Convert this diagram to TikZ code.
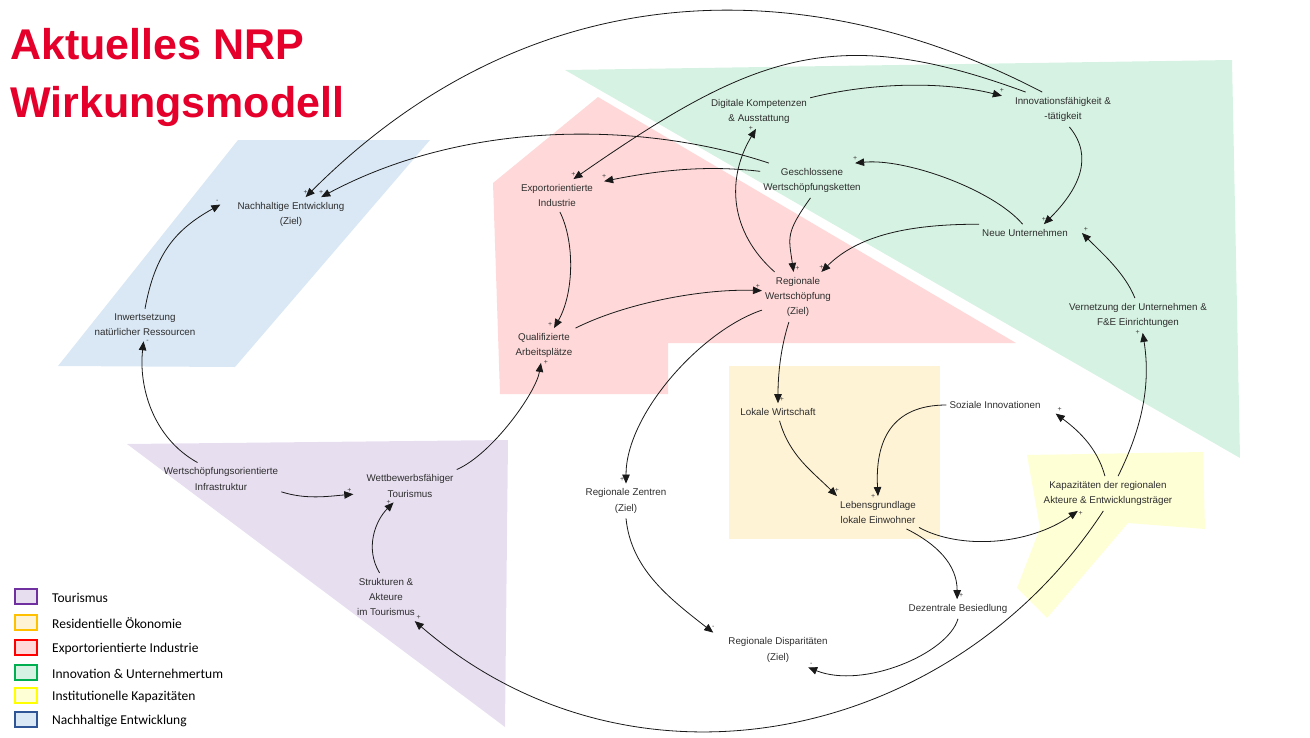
\documentclass[tikz,border=0pt]{standalone}
\usepackage{fontspec}
\setmainfont{Liberation Sans}
\newfontfamily\legendfont{Carlito}
\usetikzlibrary{arrows.meta}
\definecolor{nrpred}{HTML}{E4002B}
\definecolor{txtgray}{HTML}{2E2E2E}
\definecolor{tourF}{HTML}{E7DEF0}
\definecolor{tourB}{HTML}{7030A0}
\definecolor{resF}{HTML}{FFF3D6}
\definecolor{resB}{HTML}{FFC000}
\definecolor{expF}{HTML}{FFD9D9}
\definecolor{expB}{HTML}{FF0000}
\definecolor{innF}{HTML}{D6F2E2}
\definecolor{innB}{HTML}{00B050}
\definecolor{insF}{HTML}{FFFFD6}
\definecolor{insB}{HTML}{FFFF00}
\definecolor{nacF}{HTML}{DAE8F5}
\definecolor{nacB}{HTML}{2F5597}
\tikzset{
  cvar/.style={align=center, font=\fontsize{9.8}{15.3}\selectfont, text=txtgray,
    inner xsep=3pt, inner ysep=5pt},
  link/.style={draw=black!90, line width=0.8pt, -{Triangle[length=9pt,width=7.5pt]}},
  sgn/.style={font=\fontsize{7}{7}\selectfont, text=black!75, inner sep=0.5pt},
  legbox/.style={line width=2pt, minimum width=22pt, minimum height=15pt, inner sep=0pt},
  legtext/.style={font=\legendfont\fontsize{13.5}{15}\selectfont, anchor=west, inner sep=1pt},
}
\begin{document}
\begin{tikzpicture}[x=1pt,y=-1pt]
\useasboundingbox (0,0) rectangle (1310,737);
% areas
\fill[nacF] (238,140) -- (430,140) -- (235,367) -- (58,366) -- cycle;
\fill[tourF] (127,444) -- (508,440) -- (505,727) -- cycle;
\fill[expF] (493,183) -- (598,97) -- (1016,343) -- (668,343) -- (668,394) -- (500,394) -- cycle;
\fill[innF] (565,70) -- (1232,60) -- (1240,458) -- cycle;
\fill[resF] (729,366) rectangle (940,539);
\fill[insF] (1027,455) -- (1203,452) -- (1205,529) -- (1128,523) -- (1047,618) -- (1017,588) -- (1040,528) -- cycle;
% title
\node[anchor=north west, inner sep=0pt, align=left, text=nrpred,
  font=\fontsize{43}{58}\selectfont\bfseries] (title) at (10,28) {Aktuelles NRP\\Wirkungsmodell};
% variables
\node[cvar] (ne) at (291,214.5) {Nachhaltige Entwicklung\\(Ziel)};
\node[cvar] (ir) at (145,325) {Inwertsetzung\\natürlicher Ressourcen};
\node[cvar] (wi) at (221,479) {Wertschöpfungsorientierte\\Infrastruktur};
\node[cvar] (wt) at (410,486) {Wettbewerbsfähiger\\Tourismus};
\node[cvar] (sat) at (386,597) {Strukturen \&\\Akteure\\im Tourismus};
\node[cvar] (ei) at (557,195.5) {Exportorientierte\\Industrie};
\node[cvar] (qa) at (544,345.5) {Qualifizierte\\Arbeitsplätze};
\node[cvar] (dk) at (759,111.5) {Digitale Kompetenzen\\\& Ausstattung};
\node[cvar] (gw) at (812,180.5) {Geschlossene\\Wertschöpfungsketten};
\node[cvar] (rw) at (798,297) {Regionale\\Wertschöpfung\\(Ziel)};
\node[cvar] (inno) at (1063,109.5) {Innovationsfähigkeit \&\\-tätigkeit};
\node[cvar] (nu) at (1025,233) {Neue Unternehmen};
\node[cvar] (vu) at (1138,315.5) {Vernetzung der Unternehmen \&\\F\&E Einrichtungen};
\node[cvar] (lw) at (778,412) {Lokale Wirtschaft};
\node[cvar] (si) at (995,405) {Soziale Innovationen};
\node[cvar] (le) at (878,512.5) {Lebensgrundlage\\lokale Einwohner};
\node[cvar] (ka) at (1108,493.5) {Kapazitäten der regionalen\\Akteure \& Entwicklungsträger};
\node[cvar] (rz) at (626,501) {Regionale Zentren\\(Ziel)};
\node[cvar] (db) at (958,609) {Dezentrale Besiedlung};
\node[cvar] (rd) at (778,650) {Regionale Disparitäten\\(Ziel)};
% links
\draw[link] (inno.140) .. controls +(-230,-120) and +(230,-230) .. (ne.50) node[sgn,pos=1,above=2pt] {+};
\draw[link] (inno.155) .. controls +(-190,-70) and +(180,-125) .. (ei.45) node[sgn,pos=1,above=2pt] {+};
\draw[link] (dk.15) .. controls +(60,-15) and +(-60,-15) .. ([xshift=-10pt]inno.165) node[sgn,pos=1,above=2pt] {+};
\draw[link] (gw.158) .. controls +(-120,-40) and +(150,-80) .. (ne.30) node[sgn,pos=1,above=2pt] {+};
\draw[link] (gw.170) .. controls +(-50,-6) and +(60,-12) .. ([xshift=8pt]ei.20) node[sgn,pos=1,above=2pt] {+};
\draw[link] (gw.-95) .. controls +(-25,35) and +(-5,-35) .. (rw.100) node[sgn,pos=1,above right=1pt] {+};
\draw[link] (rw.133) .. controls +(-45,-40) and +(-30,50) .. (dk.-100) node[sgn,pos=1,left=2pt] {+};
\draw[link] (nu.north west) .. controls +(-60,0) and +(40,-40) .. (rw.47) node[sgn,pos=1,above=2pt] {+};
\draw[link] (nu.105) .. controls +(-30,-35) and +(50,-5) .. (gw.22) node[sgn,pos=1,above=2pt] {+};
\draw[link] (inno.-70) .. controls +(25,30) and +(35,-35) .. (nu.25) node[sgn,pos=1,above=2pt] {+};
\draw[link] (vu.100) .. controls +(-10,-25) and +(20,20) .. ([xshift=11pt]nu.east) node[sgn,pos=1,above right=1pt] {+};
\draw[link] (ka.60) .. controls +(25,-50) and +(8,50) .. (vu.-75) node[sgn,pos=1,left=2pt] {+};
\draw[link] (ka.100) .. controls +(-8,-30) and +(20,15) .. ([xshift=12pt]si.-10) node[sgn,pos=1,above right=1pt] {+};
\draw[link] (le.-20) .. controls +(40,22) and +(-50,35) .. (ka.-150) node[sgn,pos=1,below right=0pt] {+};
\draw[link] (ka.-105) .. controls +(-150,230) and +(220,190) .. (sat.-40) node[sgn,pos=1,above right=1pt] {+};
\draw[link] (si.west) .. controls +(-55,0) and +(-3,-55) .. (le.north) node[sgn,pos=1,left=2pt] {+};
\draw[link] (lw.-80) .. controls +(10,35) and +(-25,-25) .. (le.north west) node[sgn,pos=1,above=3pt] {+};
\draw[link] (rw.-110) .. controls +(-8,25) and +(0,-30) .. (lw.north) node[sgn,pos=1,above right=1pt] {+};
\draw[link] (rw.-160) .. controls +(-60,20) and +(0,-70) .. (rz.north) node[sgn,pos=1,above left=1pt] {+};
\draw[link] (rz.south) .. controls +(5,50) and +(-45,-35) .. ([xshift=-12pt]rd.north west) node[sgn,pos=1,above=3pt] {-};
\draw[link] (le.-30) .. controls +(30,15) and +(0,-35) .. (db.95) node[sgn,pos=1,above right=1pt] {+};
\draw[link] (db.south) .. controls +(-10,35) and +(55,22) .. (rd.-30) node[sgn,pos=1,above right=1pt] {-};
\draw[link] (ei.-80) .. controls +(15,30) and +(20,-35) .. (qa.60) node[sgn,pos=1,above left=1pt] {+};
\draw[link] (qa.north east) .. controls +(50,-25) and +(-60,-2) .. (rw.170) node[sgn,pos=1,above left=1pt] {+};
\draw[link] (wt.north east) .. controls +(35,-15) and +(-5,30) .. (qa.-100) node[sgn,pos=1,right=2pt] {+};
\draw[link] (wi.-12) .. controls +(25,8) and +(-25,2) .. ([xshift=-10pt]wt.-170) node[sgn,pos=1,above left=1pt] {+};
\draw[link] (sat.105) .. controls +(-15,-25) and +(-18,18) .. (wt.-135) node[sgn,pos=1,left=2pt] {+};
\draw[link] (wi.145) .. controls +(-45,-25) and +(-5,45) .. (ir.-95) node[sgn,pos=1,right=2pt] {-};
\draw[link] (ir.north) .. controls +(10,-55) and +(-45,25) .. ([xshift=-14pt]ne.170) node[sgn,pos=1,above left=1pt] {-};
% legend
\foreach \y/\fil/\brd/\lab in {596.5/tourF/tourB/Tourismus, 622/resF/resB/Residentielle Ökonomie,
    647.5/expF/expB/Exportorientierte Industrie, 672/innF/innB/Innovation \& Unternehmertum,
    695.5/insF/insB/Institutionelle Kapazitäten, 719/nacF/nacB/Nachhaltige Entwicklung}{
  \node[legbox, fill=\fil, draw=\brd] (box-\fil) at (26,\y) {};
  \node[legtext] (lab-\fil) at (51,\y+1.5) {\lab};
}
\end{tikzpicture}
\end{document}
